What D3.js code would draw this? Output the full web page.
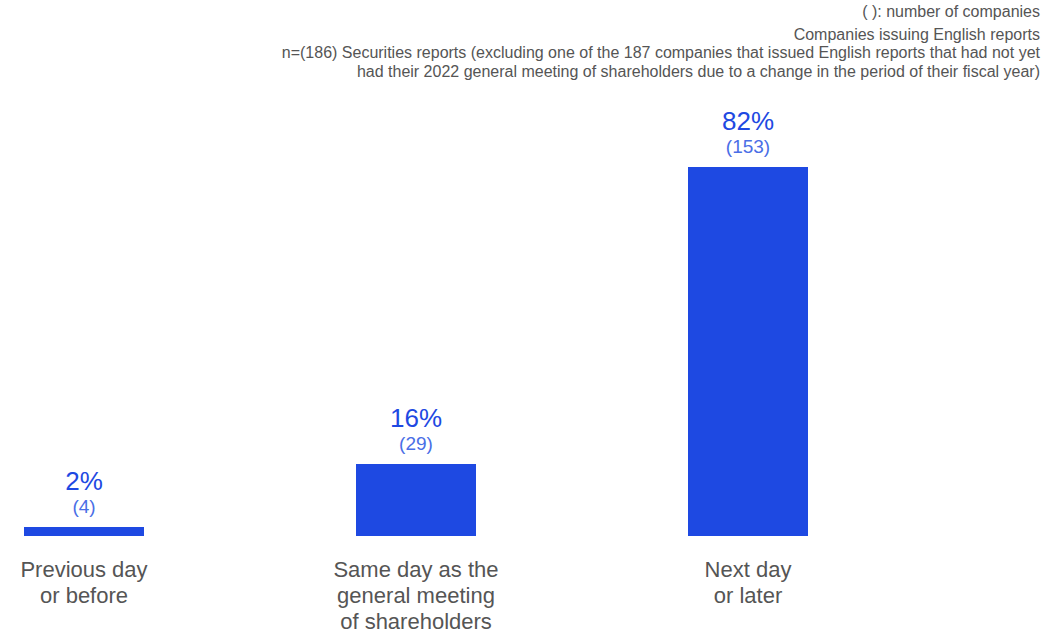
<!DOCTYPE html>
<html>
<head>
<meta charset="utf-8">
<script src="https://cdn.jsdelivr.net/npm/d3@7/dist/d3.min.js"></script>
<style>
  html, body { margin: 0; padding: 0; background: #ffffff; }
  svg { display: block; font-family: "Liberation Sans", Arial, sans-serif; }
</style>
</head>
<body>
<svg id="chart" width="1061" height="633"></svg>
<script>
// Timing of English securities report issuance relative to the AGM
const categories = [
  ["Previous day", "or before"],
  ["Same day as the", "general meeting", "of shareholders"],
  ["Next day", "or later"]
];
const percents = [2, 16, 82];
const counts = [4, 29, 153];
const notes = [
  "( ): number of companies",
  "Companies issuing English reports",
  "n=(186) Securities reports (excluding one of the 187 companies that issued English reports that had not yet",
  "had their 2022 general meeting of shareholders due to a change in the period of their fiscal year)"
];

const svg = d3.select("#chart");
const blue = "#1E49E2";

const x = d3.scaleBand()
  .domain(d3.range(categories.length))
  .range([24, 808])
  .paddingInner(212 / 332)
  .paddingOuter(0);

const y = d3.scaleLinear()
  .domain([0, 100])
  .range([536, 86]);

// Notes, right aligned in the top corner
const noteY = [17, 39.5, 58, 76.5];
svg.append("g")
  .selectAll("text")
  .data(notes)
  .join("text")
  .attr("x", 1040)
  .attr("y", (d, i) => noteY[i])
  .attr("text-anchor", "end")
  .attr("font-size", 16)
  .attr("fill", "#555")
  .text(d => d);

// Bars
svg.append("g")
  .selectAll("rect")
  .data(percents)
  .join("rect")
  .attr("x", (d, i) => x(i))
  .attr("width", x.bandwidth())
  .attr("y", d => y(d))
  .attr("height", d => y(0) - y(d))
  .attr("fill", blue);

// Percentage labels
svg.append("g")
  .selectAll("text")
  .data(percents)
  .join("text")
  .attr("x", (d, i) => x(i) + x.bandwidth() / 2)
  .attr("y", d => y(d) - 37)
  .attr("text-anchor", "middle")
  .attr("font-size", 26)
  .attr("fill", blue)
  .text(d => d + "%");

// Company counts
svg.append("g")
  .selectAll("text")
  .data(counts)
  .join("text")
  .attr("x", (d, i) => x(i) + x.bandwidth() / 2)
  .attr("y", (d, i) => y(percents[i]) - 14)
  .attr("text-anchor", "middle")
  .attr("font-size", 19)
  .attr("fill", "#4a6ee6")
  .text(d => "(" + d + ")");

// Category labels below the bars
const catG = svg.append("g")
  .selectAll("text")
  .data(categories)
  .join("text")
  .attr("text-anchor", "middle")
  .attr("font-size", 22)
  .attr("fill", "#555");

catG.selectAll("tspan")
  .data((d, i) => d.map(line => ({ line, i })))
  .join("tspan")
  .attr("x", d => x(d.i) + x.bandwidth() / 2)
  .attr("y", (d, j) => y(0) + 41 + j * 26)
  .text(d => d.line);
</script>
</body>
</html>
